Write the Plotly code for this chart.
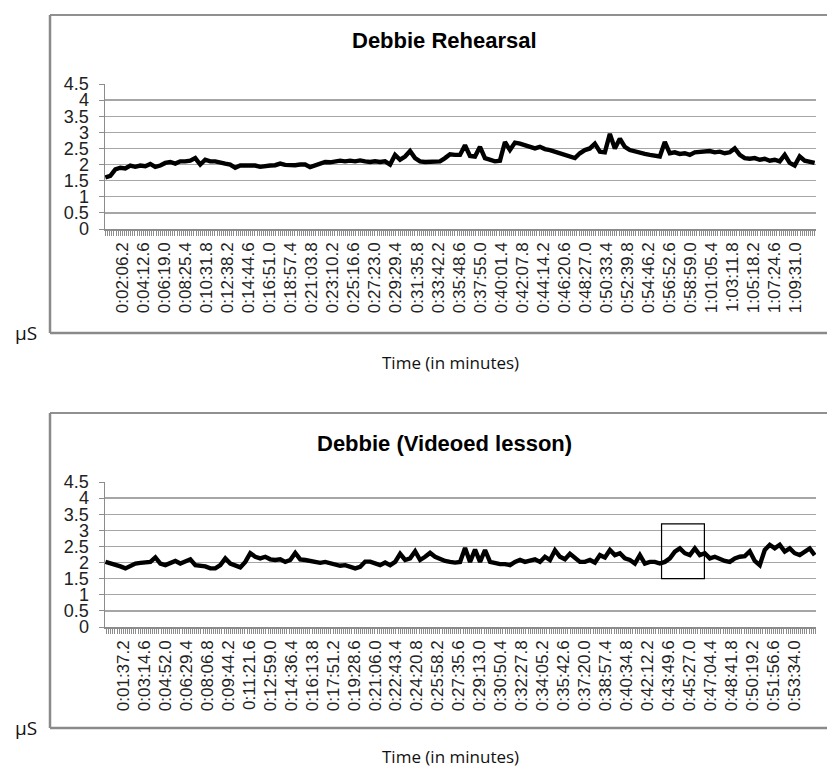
import numpy as np
import plotly.graph_objects as go

W, H = 827, 769

# ---------------- data ----------------
rehearsal_title = "Debbie Rehearsal"
lesson_title = "Debbie (Videoed lesson)"
x_title = "Time (in minutes)"
y_unit = "μS"

rehearsal_labels = ["0:02:06.2", "0:04:12.6", "0:06:19.0", "0:08:25.4", "0:10:31.8", "0:12:38.2",
                    "0:14:44.6", "0:16:51.0", "0:18:57.4", "0:21:03.8", "0:23:10.2", "0:25:16.6",
                    "0:27:23.0", "0:29:29.4", "0:31:35.8", "0:33:42.2", "0:35:48.6", "0:37:55.0",
                    "0:40:01.4", "0:42:07.8", "0:44:14.2", "0:46:20.6", "0:48:27.0", "0:50:33.4",
                    "0:52:39.8", "0:54:46.2", "0:56:52.6", "0:58:59.0", "1:01:05.4", "1:03:11.8",
                    "1:05:18.2", "1:07:24.6", "1:09:31.0"]

lesson_labels = ["0:01:37.2", "0:03:14.6", "0:04:52.0", "0:06:29.4", "0:08:06.8", "0:09:44.2",
                 "0:11:21.6", "0:12:59.0", "0:14:36.4", "0:16:13.8", "0:17:51.2", "0:19:28.6",
                 "0:21:06.0", "0:22:43.4", "0:24:20.8", "0:25:58.2", "0:27:35.6", "0:29:13.0",
                 "0:30:50.4", "0:32:27.8", "0:34:05.2", "0:35:42.6", "0:37:20.0", "0:38:57.4",
                 "0:40:34.8", "0:42:12.2", "0:43:49.6", "0:45:27.0", "0:47:04.4", "0:48:41.8",
                 "0:50:19.2", "0:51:56.6", "0:53:34.0"]

# sampling of the traced curves (seconds)
rehearsal_start, rehearsal_step = 24.0, 30.0
lesson_start, lesson_step = 14.0, 23.2

rehearsal_values = [
    1.6, 1.65, 1.85, 1.9, 1.88, 1.97, 1.93, 1.97, 1.95, 2.02, 1.93, 1.97,
    2.05, 2.08, 2.03, 2.1, 2.1, 2.12, 2.2, 2.0, 2.15, 2.1, 2.1, 2.05,
    2.03, 2.0, 1.9, 1.97, 1.97, 1.98, 1.97, 1.93, 1.96, 1.97, 1.98, 2.03,
    1.99, 1.98, 1.98, 2.0, 2.0, 1.92, 1.97, 2.05, 2.08, 2.07, 2.1, 2.12,
    2.1, 2.12, 2.1, 2.13, 2.1, 2.08, 2.1, 2.08, 2.1, 2.0, 2.3, 2.15,
    2.25, 2.42, 2.2, 2.1, 2.08, 2.08, 2.1, 2.1, 2.2, 2.32, 2.3, 2.3,
    2.6, 2.27, 2.25, 2.55, 2.2, 2.15, 2.1, 2.12, 2.7, 2.45, 2.68, 2.65,
    2.6, 2.55, 2.5, 2.55, 2.48, 2.45, 2.4, 2.35, 2.3, 2.25, 2.2, 2.35,
    2.45, 2.5, 2.65, 2.4, 2.38, 2.95, 2.5, 2.8, 2.55, 2.45, 2.4, 2.35,
    2.33, 2.3, 2.28, 2.25, 2.7, 2.35, 2.38, 2.33, 2.35, 2.3, 2.38, 2.4,
    2.4, 2.42, 2.38, 2.4, 2.35, 2.38, 2.5, 2.3, 2.2, 2.18, 2.2, 2.15,
    2.18, 2.12, 2.15, 2.1, 2.3, 2.05, 1.97, 2.25, 2.12, 2.1, 2.05,
]

lesson_values = [
    2.02, 1.98, 1.92, 1.88, 1.82, 1.88, 1.97, 1.99, 2.0, 2.02, 2.16, 1.97,
    1.92, 1.97, 2.05, 1.97, 2.05, 2.1, 1.92, 1.9, 1.88, 1.82, 1.82, 1.92,
    2.13, 1.97, 1.92, 1.85, 2.02, 2.29, 2.18, 2.13, 2.18, 2.1, 2.08, 2.1,
    2.02, 2.08, 2.3, 2.1, 2.08, 2.06, 2.02, 1.99, 2.02, 1.97, 1.92, 1.9,
    1.92, 1.87, 1.82, 1.87, 2.03, 2.03, 1.97, 1.92, 2.0, 1.92, 2.02, 2.27,
    2.08, 2.13, 2.35, 2.08, 2.18, 2.3, 2.18, 2.1, 2.05, 2.02, 2.0, 2.02,
    2.45, 2.02, 2.4, 2.02, 2.39, 2.02, 1.97, 1.95, 1.95, 1.92, 2.02, 2.08,
    2.02, 2.05, 2.1, 2.02, 2.18, 2.08, 2.38, 2.18, 2.1, 2.27, 2.13, 2.02,
    2.02, 2.08, 2.0, 2.23, 2.16, 2.39, 2.23, 2.29, 2.13, 2.08, 1.97, 2.23,
    1.97, 2.02, 2.02, 1.97, 2.02, 2.13, 2.34, 2.44, 2.29, 2.23, 2.44, 2.23,
    2.29, 2.13, 2.18, 2.1, 2.05, 2.02, 2.13, 2.18, 2.2, 2.35, 2.05, 1.92,
    2.39, 2.55, 2.44, 2.55, 2.34, 2.44, 2.29, 2.23, 2.34, 2.44, 2.23,
]

# highlighted window in the lesson chart (seconds, μS)
highlight_t0, highlight_t1 = 2597.0, 2796.0
highlight_y0, highlight_y1 = 1.5, 3.2

y_max, y_step = 4.5, 0.5


# ---------------- helpers ----------------
def to_sec(s):
    h, m, rest = s.split(":")
    return int(h) * 3600 + int(m) * 60 + float(rest)


def axis_ticks(labels, r0, r1, per=10):
    lab_t = [to_sec(s) for s in labels]
    step = lab_t[1] - lab_t[0]
    minor = step / per
    n_before = int((lab_t[0] - r0) // minor)
    first = lab_t[0] - n_before * minor
    vals = list(np.arange(first, r1 + 1e-6, minor))
    texts = []
    for j in range(len(vals)):
        k = j - n_before
        if k >= 0 and k % per == 0 and k // per < len(labels):
            texts.append(labels[k // per])
        else:
            texts.append("")
    return vals, texts


reh_t = rehearsal_start + rehearsal_step * np.arange(len(rehearsal_values))
les_t = lesson_start + lesson_step * np.arange(len(lesson_values))

reh_range = [reh_t[0] - 2, reh_t[-1] + 8]
les_range = [les_t[0] - 2, les_t[-1] + 6]

reh_tv, reh_tt = axis_ticks(rehearsal_labels, *reh_range)
les_tv, les_tt = axis_ticks(lesson_labels, *les_range)

FONT = "Arial, Liberation Sans, sans-serif"
UIFONT = "Open Sans, Noto Sans, sans-serif"
GRID = "#a6a6a6"
AX = "#8c8c8c"


def px_x(p):
    return p / W


def px_y(p):
    return (H - p) / H


fig = go.Figure()
fig.add_trace(go.Scatter(x=reh_t, y=rehearsal_values, mode="lines",
                         line=dict(color="black", width=4.4), xaxis="x", yaxis="y",
                         showlegend=False, hoverinfo="x+y"))
fig.add_trace(go.Scatter(x=les_t, y=lesson_values, mode="lines",
                         line=dict(color="black", width=4.4), xaxis="x2", yaxis="y2",
                         showlegend=False, hoverinfo="x+y"))


def xaxis_cfg(tv, tt, rng, anchor):
    return dict(domain=[px_x(105), px_x(816)], range=rng, anchor=anchor, automargin=False,
                tickmode="array", tickvals=tv, ticktext=tt, tickangle=-90,
                ticks="outside", ticklen=5, tickwidth=1, tickcolor=AX,
                showline=True, linecolor=AX, linewidth=1.5,
                showgrid=False, zeroline=False,
                tickfont=dict(family=FONT, size=17, color="#222"))


def yaxis_cfg(top, bottom, anchor):
    return dict(domain=[px_y(bottom), px_y(top)], range=[0, y_max], anchor=anchor, automargin=False,
                tick0=0, dtick=y_step, ticks="outside", ticklen=5, tickwidth=1, tickcolor=AX,
                showline=True, linecolor=AX, linewidth=1.5,
                showgrid=True, gridcolor=GRID, gridwidth=1.3, zeroline=False,
                ticklabelstandoff=6,
                tickfont=dict(family=FONT, size=18, color="#222"))


shapes = []
for (top, bot) in [(15, 333), (413, 728)]:
    shapes.append(dict(type="line", xref="paper", yref="paper", x0=px_x(50), x1=1.0,
                       y0=px_y(top), y1=px_y(top), line=dict(color="#222", width=1.2)))
    shapes.append(dict(type="line", xref="paper", yref="paper", x0=px_x(50), x1=px_x(50),
                       y0=px_y(top), y1=px_y(bot), line=dict(color="#8a8a8a", width=2.5)))
    shapes.append(dict(type="line", xref="paper", yref="paper", x0=px_x(50), x1=1.0,
                       y0=px_y(bot), y1=px_y(bot), line=dict(color="#8a8a8a", width=2.5)))
shapes.append(dict(type="rect", xref="x2", yref="y2", x0=highlight_t0, x1=highlight_t1,
                   y0=highlight_y0, y1=highlight_y1, line=dict(color="black", width=1.2),
                   fillcolor="rgba(0,0,0,0)"))

annotations = []
for (title, ty, by, ly) in [(rehearsal_title, 40, 333, 362), (lesson_title, 443, 728, 756)]:
    annotations.append(dict(text=f"<b>{title}</b>", xref="paper", yref="paper",
                            x=px_x(445), y=px_y(ty), xanchor="center", yanchor="middle",
                            showarrow=False, font=dict(family=FONT, size=22, color="black")))
    annotations.append(dict(text=y_unit, xref="paper", yref="paper",
                            x=px_x(26), y=px_y(by), xanchor="center", yanchor="middle",
                            showarrow=False, font=dict(family=UIFONT, size=19, color="#111")))
    annotations.append(dict(text=x_title, xref="paper", yref="paper",
                            x=px_x(450), y=px_y(ly), xanchor="center", yanchor="middle",
                            showarrow=False, font=dict(family=UIFONT, size=17, color="#111")))

fig.update_layout(
    width=W, height=H, margin=dict(l=0, r=0, t=0, b=0, pad=0, autoexpand=False),
    paper_bgcolor="white", plot_bgcolor="white",
    xaxis=xaxis_cfg(reh_tv, reh_tt, reh_range, "y"),
    yaxis=yaxis_cfg(84, 229, "x"),
    xaxis2=xaxis_cfg(les_tv, les_tt, les_range, "y2"),
    yaxis2=yaxis_cfg(482, 627, "x2"),
    shapes=shapes, annotations=annotations, showlegend=False,
)

fig.write_html("out.html", config={"displayModeBar": False, "staticPlot": True})

# pin the figure to the window's top-left corner
with open("out.html", "r", encoding="utf-8") as f:
    html = f.read()
css = ("<style>html,body{margin:0;padding:0;overflow:hidden;width:827px;height:769px;}"
       ".plotly-graph-div{position:absolute;top:0;left:0;}</style>")
html = html.replace("<head>", "<head>" + css, 1)
with open("out.html", "w", encoding="utf-8") as f:
    f.write(html)
